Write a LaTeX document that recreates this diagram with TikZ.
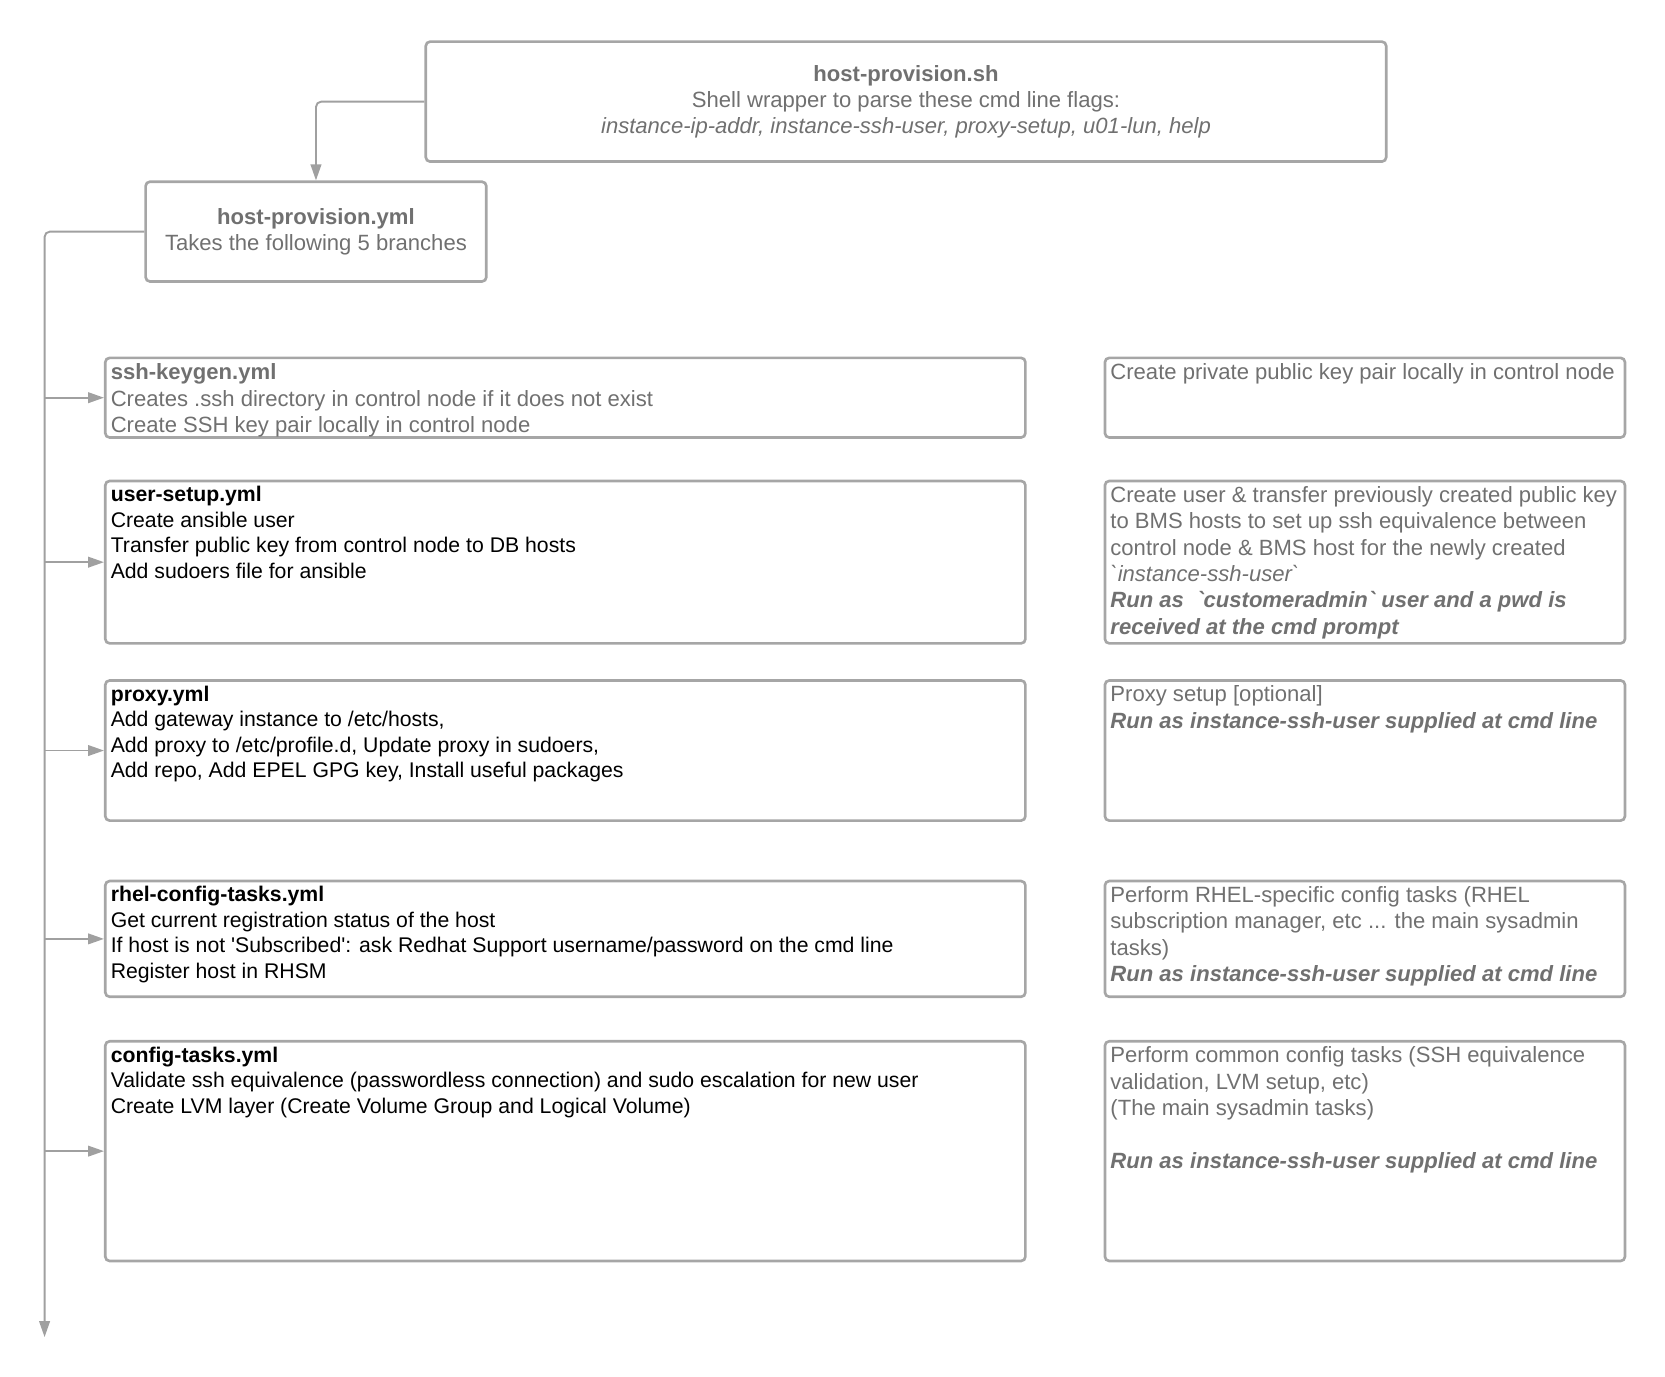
\documentclass[tikz,border=0pt]{standalone}
\usepackage{fontspec}
\setmainfont{Liberation Sans}
\usetikzlibrary{arrows.meta}
\definecolor{txtgray}{HTML}{707070}
\definecolor{boxgray}{HTML}{A6A6A6}
\definecolor{linegray}{HTML}{A0A0A0}

\begin{document}
\begin{tikzpicture}[x=0.5pt,y=-0.5pt,
    font=\fontsize{10.4}{12.4}\selectfont,
    box/.style={draw=boxgray,line width=1.25pt,rounded corners=2pt,anchor=north west,inner sep=0pt},
    lbox/.style={box,minimum width=433.5pt},
    rbox/.style={box,minimum width=245pt},
    txt/.style={anchor=north west,align=left,inner sep=0pt},
    tasktxt/.style={txt,font=\fontsize{10}{12}\selectfont},
    link/.style={draw=linegray,line width=0.9pt,rounded corners=2.5pt,-{Triangle[length=7.5pt,width=5pt]}}]
    \useasboundingbox (0,0) rectangle (1569,1297);

    \node[box,minimum width=452.5pt,minimum height=56.5pt,text=txtgray,align=center] (wrapper) at (400,38)
        {\textbf{host-provision.sh}\\Shell wrapper to parse these cmd line flags:\\\textit{instance-ip-addr, instance-ssh-user, proxy-setup, u01-lun, help}};
    \node[box,minimum width=160.5pt,minimum height=47pt,text=txtgray,align=center] (playbook) at (136,170)
        {\textbf{host-provision.yml}\\Takes the following 5 branches};

    \node[lbox,minimum height=37.5pt] (keygen) at (98,336) {};
    \node[lbox,minimum height=76.5pt] (usersetup) at (98,452) {};
    \node[lbox,minimum height=66pt] (proxy) at (98,640) {};
    \node[lbox,minimum height=54.5pt] (rhel) at (98,829) {};
    \node[lbox,minimum height=103.5pt] (config) at (98,980) {};

    \node[rbox,minimum height=37.5pt] (keygennote) at (1040,336) {};
    \node[rbox,minimum height=76.5pt] (usersetupnote) at (1040,452) {};
    \node[rbox,minimum height=66pt] (proxynote) at (1040,640) {};
    \node[rbox,minimum height=54.5pt] (rhelnote) at (1040,829) {};
    \node[rbox,minimum height=103.5pt] (confignote) at (1040,980) {};

    \node[txt,text=txtgray] (keygentxt) at ([shift={(3pt,-3.3pt)}]keygen.north west)
        {\textbf{ssh-keygen.yml}\\Creates .ssh directory in control node if it does not exist\\Create SSH key pair locally in control node};
    \node[tasktxt] (usersetuptxt) at ([shift={(3pt,-3pt)}]usersetup.north west)
        {\textbf{user-setup.yml}\\Create ansible user\\Transfer public key from control node to DB hosts\\Add sudoers file for ansible};
    \node[tasktxt] (proxytxt) at ([shift={(3pt,-3pt)}]proxy.north west)
        {\textbf{proxy.yml}\\Add gateway instance to /etc/hosts,\\Add proxy to /etc/profile.d, Update proxy in sudoers,\\Add repo, Add EPEL GPG key, Install useful packages};
    \node[tasktxt] (rheltxt) at ([shift={(3pt,-3pt)}]rhel.north west)
        {\textbf{rhel-config-tasks.yml}\\Get current registration status of the host\\If host is not \textquotesingle Subscribed\textquotesingle: ask Redhat Support username/password on the cmd line\\Register host in RHSM};
    \node[tasktxt] (configtxt) at ([shift={(3pt,-3pt)}]config.north west)
        {\textbf{config-tasks.yml}\\Validate ssh equivalence (passwordless connection) and sudo escalation for new user\\Create LVM layer (Create Volume Group and Logical Volume)};

    \node[txt,text=txtgray] (keygennotetxt) at ([shift={(3pt,-3.3pt)}]keygennote.north west)
        {Create private public key pair locally in control node};
    \node[txt,text=txtgray] (usersetupnotetxt) at ([shift={(3pt,-3pt)}]usersetupnote.north west)
        {Create user \& transfer previously created public key\\to BMS hosts to set up ssh equivalence between\\control node \& BMS host for the newly created\\\textit{\textasciigrave instance-ssh-user\textasciigrave}\\\textbf{\textit{Run as\ \ \textasciigrave customeradmin\textasciigrave{} user and a pwd is}}\\\textbf{\textit{received at the cmd prompt}}};
    \node[txt,text=txtgray] (proxynotetxt) at ([shift={(3pt,-3pt)}]proxynote.north west)
        {Proxy setup [optional]\\\textbf{\textit{Run as instance-ssh-user supplied at cmd line}}};
    \node[txt,text=txtgray] (rhelnotetxt) at ([shift={(3pt,-3pt)}]rhelnote.north west)
        {Perform RHEL-specific config tasks (RHEL\\subscription manager, etc ... the main sysadmin\\tasks)\\\textbf{\textit{Run as instance-ssh-user supplied at cmd line}}};
    \node[txt,text=txtgray] (confignotetxt) at ([shift={(3pt,-3pt)}]confignote.north west)
        {Perform common config tasks (SSH equivalence\\validation, LVM setup, etc)\\(The main sysadmin tasks)\\[12.4pt]\textbf{\textit{Run as instance-ssh-user supplied at cmd line}}};

    \coordinate (trunkend) at (42,1260);
    \draw[link] (wrapper.west) -| (playbook.north);
    \draw[link] (playbook.west) -| (trunkend);
    \foreach \b in {keygen,usersetup,proxy,rhel,config}
        \draw[link] (trunkend |- \b.west) -- (\b.west);
\end{tikzpicture}
\end{document}
